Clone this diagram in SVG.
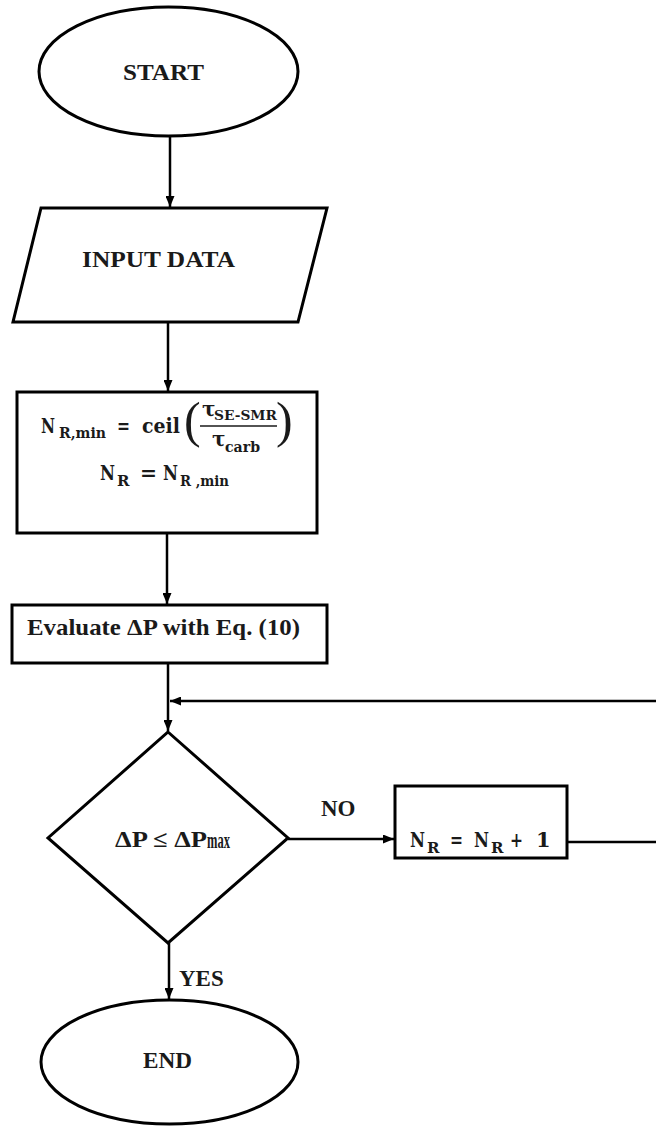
<svg xmlns="http://www.w3.org/2000/svg" width="656" height="1127" viewBox="0 0 656 1127">
<style>
.shape{fill:#fff;stroke:#000;stroke-width:3}
.conn{fill:none;stroke:#000;stroke-width:2.5}
.lbl{font-family:"Liberation Serif","Times New Roman",serif;font-weight:bold;font-size:23px;fill:#1a1a1a}
.math{font-family:"DejaVu Serif","Liberation Serif",serif;font-weight:bold;fill:#1a1a1a}
.big{font-family:"Liberation Serif",serif;font-weight:normal;font-size:50px;fill:#1a1a1a}
</style>
<defs>
<marker id="arr" markerUnits="userSpaceOnUse" markerWidth="11" markerHeight="9" refX="11" refY="4.5" orient="auto">
<path d="M0,0 L11,4.5 L0,9 z" fill="#000"/>
</marker>
</defs>
<rect width="656" height="1127" fill="#fff"/>

<g id="connectors">
<line class="conn" x1="170" y1="136" x2="170" y2="207" marker-end="url(#arr)"/>
<line class="conn" x1="168" y1="322" x2="168" y2="391" marker-end="url(#arr)"/>
<line class="conn" x1="167" y1="533" x2="167" y2="604" marker-end="url(#arr)"/>
<line class="conn" x1="168" y1="663" x2="168" y2="731" marker-end="url(#arr)"/>
<line class="conn" x1="656" y1="701" x2="170" y2="701" marker-end="url(#arr)"/>
<line class="conn" x1="288" y1="839" x2="394" y2="839" marker-end="url(#arr)"/>
<line class="conn" x1="567" y1="842" x2="656" y2="842"/>
<line class="conn" x1="169" y1="943" x2="169" y2="999" marker-end="url(#arr)"/>
<text class="lbl" x="321" y="816" font-size="22">NO</text>
<text class="lbl" x="179" y="986" font-size="22">YES</text>
</g>

<g id="start">
<ellipse class="shape" cx="168.5" cy="71.5" rx="129.5" ry="64.5"/>
<text class="lbl" x="123" y="80" font-size="24" textLength="81" lengthAdjust="spacingAndGlyphs">START</text>
</g>

<g id="input">
<polygon class="shape" points="41,208 327,208 298,322 13,322"/>
<text class="lbl" x="82" y="267" font-size="23" textLength="153" lengthAdjust="spacingAndGlyphs">INPUT DATA</text>
</g>

<g id="init">
<rect class="shape" x="17" y="392" width="300" height="141"/>
<text class="math" x="41" y="433" font-size="21" textLength="14" lengthAdjust="spacingAndGlyphs">N</text>
<text class="math" x="59" y="438" font-size="15" textLength="47" lengthAdjust="spacingAndGlyphs">R,min</text>
<text class="math" x="117" y="433" font-size="21" textLength="13" lengthAdjust="spacingAndGlyphs">=</text>
<text class="math" x="142" y="433" font-size="21" textLength="38" lengthAdjust="spacingAndGlyphs">ceil</text>
<text class="big" x="184" y="437">(</text>
<text class="math" x="202" y="416" font-size="20">τ</text>
<text class="math" x="214" y="420" font-size="13" textLength="63" lengthAdjust="spacingAndGlyphs">SE-SMR</text>
<line x1="200" y1="426" x2="277" y2="426" stroke="#1a1a1a" stroke-width="1.5"/>
<text class="math" x="212" y="446" font-size="20">τ</text>
<text class="math" x="225" y="452" font-size="15" textLength="35" lengthAdjust="spacingAndGlyphs">carb</text>
<text class="big" x="276" y="437">)</text>
<text class="math" x="100" y="480" font-size="21" textLength="15" lengthAdjust="spacingAndGlyphs">N</text>
<text class="math" x="117" y="486" font-size="15">R</text>
<text class="math" x="140" y="480" font-size="21" textLength="17" lengthAdjust="spacingAndGlyphs">=</text>
<text class="math" x="163" y="480" font-size="21" textLength="15" lengthAdjust="spacingAndGlyphs">N</text>
<text class="math" x="180" y="486" font-size="15" textLength="49" lengthAdjust="spacingAndGlyphs">R ,min</text>
</g>

<g id="evaluate">
<rect class="shape" x="12" y="605" width="315" height="58"/>
<text class="lbl" x="27" y="635" font-size="23" textLength="273" lengthAdjust="spacingAndGlyphs">Evaluate ΔP with Eq. (10)</text>
</g>

<g id="decision">
<polygon class="shape" points="168,732 288,838 168,943 48,838"/>
<text class="lbl" x="115" y="847" font-size="22" textLength="92" lengthAdjust="spacingAndGlyphs">ΔP ≤ ΔP</text>
<text class="lbl" x="207" y="848" font-size="15" textLength="23" lengthAdjust="spacingAndGlyphs">max</text>
</g>

<g id="increment">
<rect class="shape" x="395" y="786" width="172" height="72"/>
<text class="math" x="410" y="847" font-size="21" textLength="15" lengthAdjust="spacingAndGlyphs">N</text>
<text class="math" x="427" y="853" font-size="15">R</text>
<text class="math" x="450" y="847" font-size="21" textLength="13" lengthAdjust="spacingAndGlyphs">=</text>
<text class="math" x="474" y="847" font-size="21" textLength="15" lengthAdjust="spacingAndGlyphs">N</text>
<text class="math" x="491" y="853" font-size="15">R</text>
<text class="math" x="510" y="847" font-size="21" textLength="13" lengthAdjust="spacingAndGlyphs">+</text>
<text class="math" x="536" y="847" font-size="21">1</text>
</g>

<g id="end">
<ellipse class="shape" cx="169.5" cy="1062" rx="128.5" ry="62"/>
<text class="lbl" x="143" y="1068" font-size="23" textLength="49" lengthAdjust="spacingAndGlyphs">END</text>
</g>
</svg>
